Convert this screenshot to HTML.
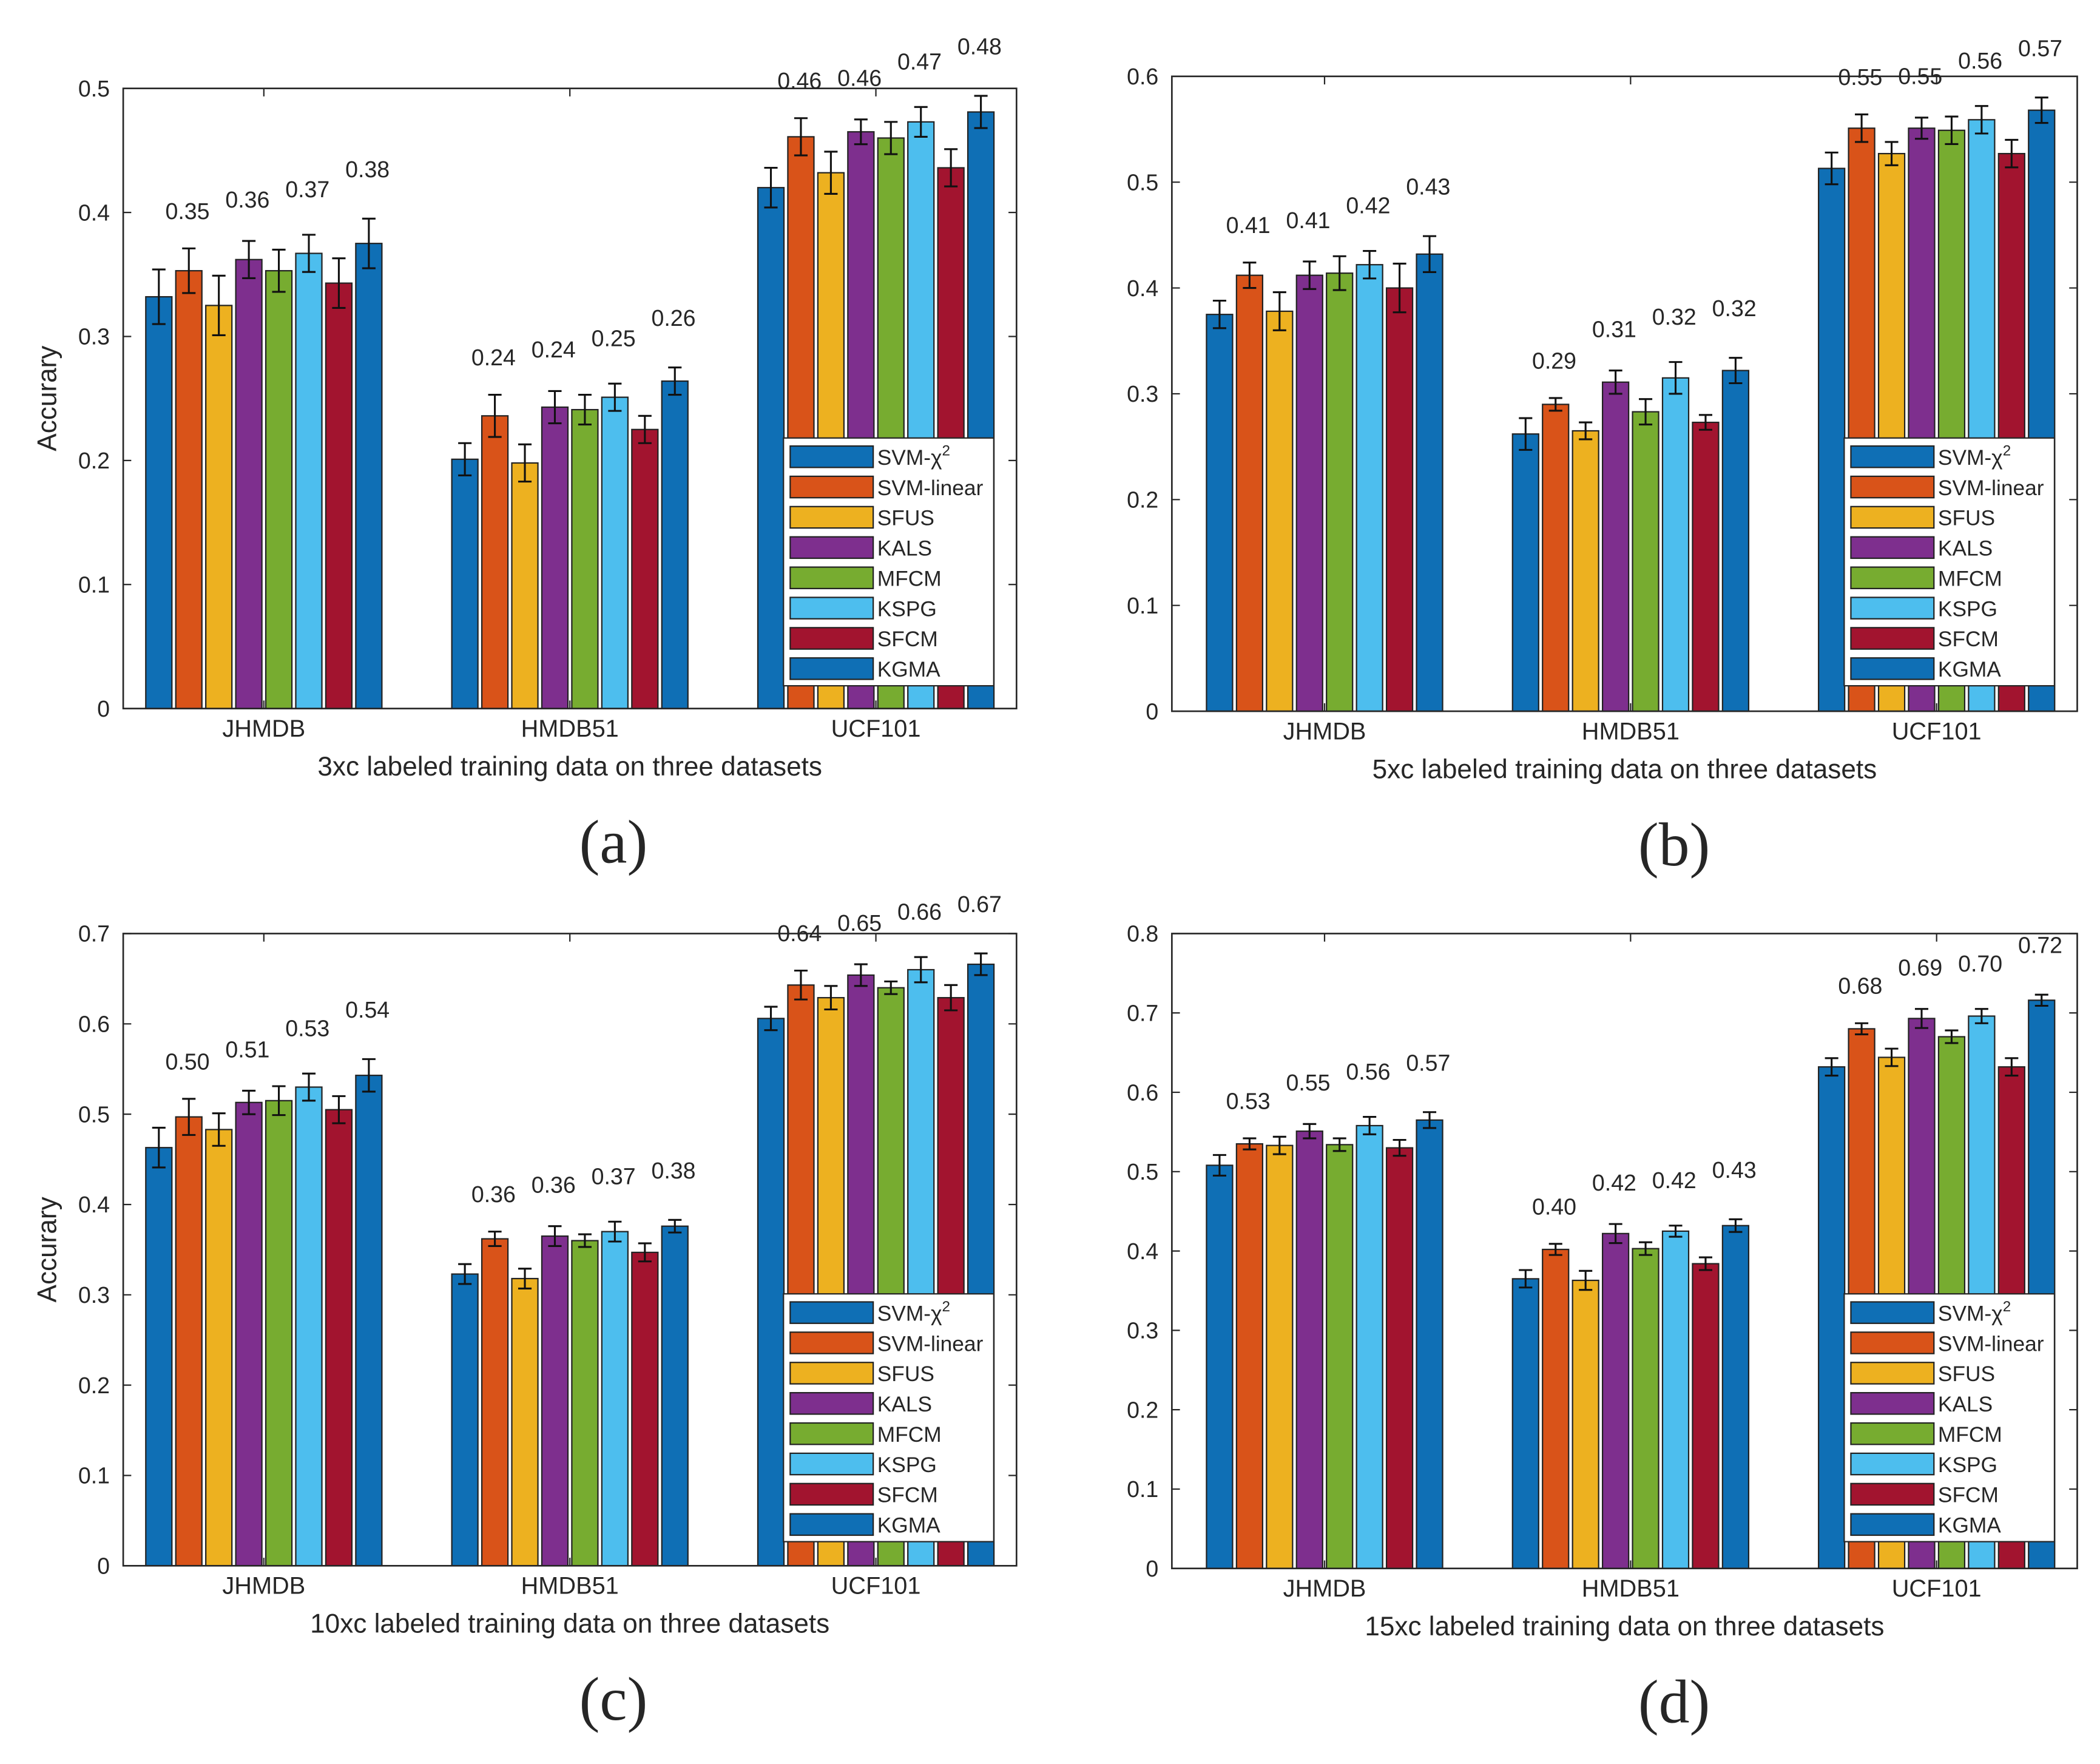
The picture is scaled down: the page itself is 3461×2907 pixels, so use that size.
<!DOCTYPE html>
<html><head><meta charset="utf-8"><style>
html,body{margin:0;padding:0;background:#fff}
svg{display:block}
text{font-family:"Liberation Sans",Arial,sans-serif;fill:#262626}
</style></head><body>
<svg id="fig" xmlns="http://www.w3.org/2000/svg" width="3461" height="2907" viewBox="0 0 1568 1317"></svg>
<script>
const categories = ["JHMDB","HMDB51","UCF101"];
const methods = ["SVM-χ2","SVM-linear","SFUS","KALS","MFCM","KSPG","SFCM","KGMA"];
const colors = ["#0f6fb5","#d95319","#edb120","#7e2f8e","#77ac30","#4dbeee","#a2142f","#0f6fb5"];
const valsA = [[0.332,0.353,0.325,0.362,0.353,0.367,0.343,0.375],[0.201,0.236,0.198,0.243,0.241,0.251,0.225,0.264],[0.420,0.461,0.432,0.465,0.460,0.473,0.436,0.481]];
const errA = [[0.022,0.018,0.024,0.015,0.017,0.015,0.020,0.020],[0.013,0.017,0.015,0.013,0.012,0.011,0.011,0.011],[0.016,0.015,0.017,0.010,0.013,0.012,0.015,0.013]];
const labelsA = [["0.35","0.36","0.37","0.38"],["0.24","0.24","0.25","0.26"],["0.46","0.46","0.47","0.48"]];
const valsB = [[0.375,0.412,0.378,0.412,0.414,0.422,0.400,0.432],[0.262,0.290,0.265,0.311,0.283,0.315,0.273,0.322],[0.513,0.551,0.527,0.551,0.549,0.559,0.527,0.568]];
const errB = [[0.013,0.012,0.018,0.013,0.016,0.013,0.023,0.017],[0.015,0.006,0.008,0.011,0.012,0.015,0.007,0.012],[0.015,0.013,0.011,0.010,0.013,0.013,0.013,0.012]];
const labelsB = [["0.41","0.41","0.42","0.43"],["0.29","0.31","0.32","0.32"],["0.55","0.55","0.56","0.57"]];
const valsC = [[0.463,0.497,0.483,0.513,0.515,0.530,0.505,0.543],[0.323,0.362,0.318,0.365,0.360,0.370,0.347,0.376],[0.606,0.643,0.629,0.654,0.640,0.660,0.629,0.666]];
const errC = [[0.022,0.020,0.018,0.013,0.016,0.015,0.015,0.018],[0.011,0.008,0.011,0.011,0.007,0.011,0.010,0.007],[0.013,0.016,0.013,0.012,0.007,0.014,0.014,0.012]];
const labelsC = [["0.50","0.51","0.53","0.54"],["0.36","0.36","0.37","0.38"],["0.64","0.65","0.66","0.67"]];
const valsD = [[0.508,0.535,0.533,0.551,0.534,0.558,0.530,0.565],[0.365,0.402,0.363,0.422,0.403,0.425,0.384,0.432],[0.632,0.680,0.644,0.693,0.670,0.696,0.632,0.716]];
const errD = [[0.013,0.007,0.011,0.009,0.008,0.011,0.010,0.010],[0.011,0.007,0.012,0.012,0.008,0.007,0.008,0.008],[0.011,0.007,0.011,0.012,0.008,0.009,0.011,0.007]];
const labelsD = [["0.53","0.55","0.56","0.57"],["0.40","0.42","0.42","0.43"],["0.68","0.69","0.70","0.72"]];
const yTicksA=[0,0.1,0.2,0.3,0.4,0.5];
const yTicksB=[0,0.1,0.2,0.3,0.4,0.5,0.6];
const yTicksC=[0,0.1,0.2,0.3,0.4,0.5,0.6,0.7];
const yTicksD=[0,0.1,0.2,0.3,0.4,0.5,0.6,0.7,0.8];
const xTitles=["3xc labeled training data on three datasets","5xc labeled training data on three datasets","10xc labeled training data on three datasets","15xc labeled training data on three datasets"];
const panelLetters=["(a)","(b)","(c)","(d)"];

const NS="http://www.w3.org/2000/svg";
const svg=document.getElementById('fig');
function mk(tag,attrs,parent,txt){const e=document.createElementNS(NS,tag);for(const k in attrs)e.setAttribute(k,attrs[k]);if(txt!==undefined)e.textContent=txt;(parent||svg).appendChild(e);return e;}

const panels=[
 {vals:valsA,err:errA,labels:labelsA,ticks:yTicksA,x0:92,x1:759,y0:529,y1:66,ymax:0.5,off:105,lx:585,ly:327,ylab:true,name:"a",px:458},
 {vals:valsB,err:errB,labels:labelsB,ticks:yTicksB,x0:875,x1:1551,y0:531,y1:57,ymax:0.6,off:114,lx:1377,ly:327,ylab:false,name:"b",px:1250},
 {vals:valsC,err:errC,labels:labelsC,ticks:yTicksC,x0:92,x1:759,y0:1169,y1:697,ymax:0.7,off:105,lx:585,ly:966,ylab:true,name:"c",px:458},
 {vals:valsD,err:errD,labels:labelsD,ticks:yTicksD,x0:875,x1:1551,y0:1171,y1:697,ymax:0.8,off:114,lx:1377,ly:966,ylab:false,name:"d",px:1250}
];

panels.forEach((p,pi)=>{
 const g=mk('g',{});
 
 
 const W=p.x1-p.x0;
 const y=v=>p.y0-(v/p.ymax)*(p.y0-p.y1);
 const cx=i=>p.x0+p.off+228.5*i;
 const pitch=22.4, bw=19.5;
 p.vals.forEach((grp,ci)=>{
  grp.forEach((v,mi)=>{
   const xc=cx(ci)+(mi-3.5)*pitch;
   const r=mk('rect',{x:xc-bw/2,y:y(v),width:bw,height:p.y0-y(v),fill:colors[mi],stroke:'#222','stroke-width':1},g);
   
   
   const e=p.err[ci][mi];
   const eg=mk('path',{d:`M${xc},${y(v-e)}V${y(v+e)}M${xc-5},${y(v-e)}H${xc+5}M${xc-5},${y(v+e)}H${xc+5}`,stroke:'#111','stroke-width':1.4,fill:'none'},g);
   
   
   if(mi%2===1){
    const t=mk('text',{x:xc-1,y:y(v+e)-22-(mi-1)*1.5,'text-anchor':'middle','font-size':17},g,p.labels[ci][(mi-1)/2]);
    
    
   }
  });
 });
 const box=mk('rect',{x:p.x0,y:p.y1,width:W,height:p.y0-p.y1,fill:'none',stroke:'#262626','stroke-width':1.2},g);
 
 
 p.ticks.forEach(t=>{
  mk('path',{d:`M${p.x0},${y(t)}h6M${p.x1},${y(t)}h-6`,stroke:'#262626','stroke-width':1},g);
  const tl=mk('text',{x:p.x0-10,y:y(t)+6,'text-anchor':'end','font-size':17},g,String(t));
  
  
 });
 categories.forEach((c,ci)=>{
  mk('path',{d:`M${cx(ci)},${p.y0}v-6M${cx(ci)},${p.y1}v6`,stroke:'#262626','stroke-width':1},g);
  const tl=mk('text',{x:cx(ci),y:p.y0+21,'text-anchor':'middle','font-size':18},g,c);
  
  
 });
 const xt=mk('text',{x:(p.x0+p.x1)/2,y:p.y0+50,'text-anchor':'middle','font-size':20},g,xTitles[pi]);
 
 
 if(p.ylab){
  const yt=mk('text',{x:0,y:0,'text-anchor':'middle','font-size':20,transform:`translate(42,${(p.y0+p.y1)/2}) rotate(-90)`},g,'Accurary');
  
  
 }
 const pl=mk('text',{x:p.px,y:p.y0+115,'text-anchor':'middle','font-size':46,style:'font-family:"Liberation Serif",serif'},g,panelLetters[pi]);
 
 
 const lg=mk('g',{},g);
 
 
 mk('rect',{x:p.lx,y:p.ly,width:157,height:185,fill:'#fff',stroke:'#262626','stroke-width':1},lg);
 methods.forEach((m,mi)=>{
  const yy=p.ly+14+mi*22.6;
  const sw=mk('rect',{x:p.lx+5,y:yy-8,width:62,height:16,fill:colors[mi],stroke:'#222','stroke-width':1},lg);
  
  
  const t=mk('text',{x:p.lx+70,y:yy+6,'font-size':16},lg);
  
  
  if(mi===0){t.textContent='SVM-χ';mk('tspan',{dy:-7,'font-size':11},t,'2');}
  else t.textContent=m;
 });
});
</script>
</body></html>
